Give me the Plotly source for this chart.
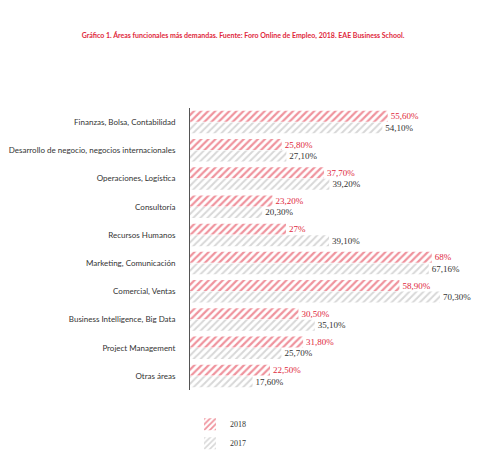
import plotly.graph_objects as go

categories = ["Finanzas, Bolsa, Contabilidad", "Desarrollo de negocio, negocios internacionales",
              "Operaciones, Logística", "Consultoría", "Recursos Humanos",
              "Marketing, Comunicación", "Comercial, Ventas", "Business Intelligence, Big Data",
              "Project Management", "Otras áreas"]
v2018 = [55.6, 25.8, 37.7, 23.2, 27, 68, 58.9, 30.5, 31.8, 22.5]
v2017 = [54.1, 27.1, 39.2, 20.3, 39.1, 67.16, 70.3, 35.1, 25.7, 17.6]
t2018 = ["55,60%", "25,80%", "37,70%", "23,20%", "27%", "68%", "58,90%", "30,50%", "31,80%", "22,50%"]
t2017 = ["54,10%", "27,10%", "39,20%", "20,30%", "39,10%", "67,16%", "70,30%", "35,10%", "25,70%", "17,60%"]

red = "#e0283c"
grey = "#b0b0b0"
serif = "Liberation Serif"

fig = go.Figure()
fig.add_trace(go.Bar(y=categories, x=v2018, orientation="h", name="2018",
                     text=t2018, textposition="outside", cliponaxis=False,
                     textfont=dict(family=serif, size=9, color=red),
                     marker=dict(color="white", line=dict(width=0),
                                 pattern=dict(shape="/", fgcolor=red, size=5, solidity=0.45))))
fig.add_trace(go.Bar(y=categories, x=v2017, orientation="h", name="2017",
                     text=t2017, textposition="outside", cliponaxis=False,
                     textfont=dict(family=serif, size=9, color="#333333"),
                     marker=dict(color="white", line=dict(width=0),
                                 pattern=dict(shape="/", fgcolor=grey, size=5, solidity=0.4))))

fig.update_layout(
    width=500, height=462, barmode="group", bargap=0.18, bargroupgap=0.05,
    plot_bgcolor="white", paper_bgcolor="white",
    margin=dict(l=182, r=30, t=100, b=80),
    font=dict(family="Lato", size=8, color="#333333"),
    title=dict(text="<b>Gráfico 1. Áreas funcionales más demandas. Fuente: Foro Online de Empleo, 2018. EAE Business School.</b>",
               x=0.47, xref="container", y=0.945, xanchor="center",
               font=dict(family="Lato", size=7, color=red)),
    xaxis=dict(range=[0, 81], visible=False),
    yaxis=dict(autorange="reversed", showline=True, linecolor="#555555", linewidth=1,
               ticks="", ticklabelstandoff=12, automargin=False),
    legend=dict(x=0, y=-0.07, xanchor="left", yanchor="top", traceorder="normal",
                font=dict(family=serif, size=8), itemwidth=30, tracegroupgap=0),
    showlegend=True,
)
fig.write_html("out.html")
